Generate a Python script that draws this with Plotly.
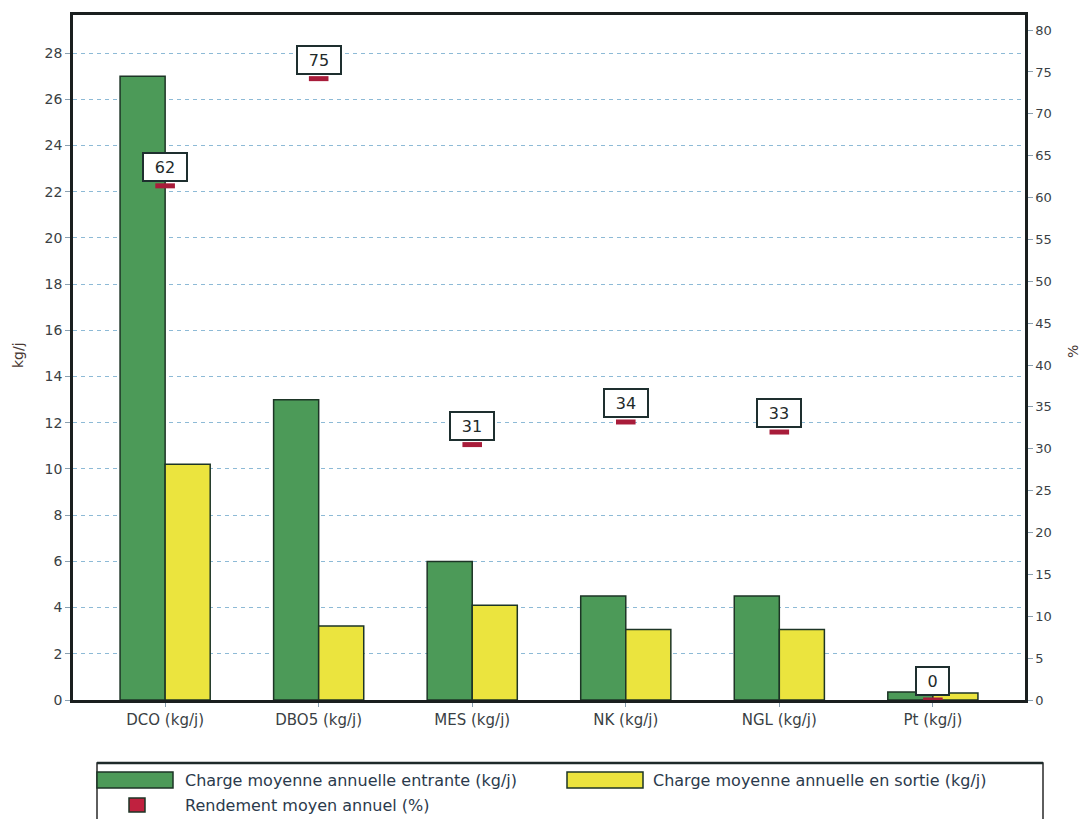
import plotly.graph_objects as go

categories = ["DCO (kg/j)", "DBO5 (kg/j)", "MES (kg/j)", "NK (kg/j)", "NGL (kg/j)", "Pt (kg/j)"]
charge_entrante = [27.0, 13.0, 6.0, 4.5, 4.5, 0.35]
charge_sortie = [10.2, 3.2, 4.1, 3.05, 3.05, 0.3]
rendement = [61.4, 74.2, 30.5, 33.2, 32.0, 0.0]
rendement_labels = ["62", "75", "31", "34", "33", "0"]
left_ticks = list(range(0, 29, 2))
right_ticks = list(range(0, 81, 5))

W, H = 1086, 819
L, R, T, B = 73, 1025, 15, 700

def pxx(px):
    return (px - L) / (R - L)

def pxy(py):
    return (B - py) / (B - T)

GREEN = "#4c9a58"
YELLOW = "#ebe43e"
RED = "#c0213f"
EDGE = "#1d3526"
TXT = "#3a3f44"
FONT = "DejaVu Sans"

fig = go.Figure()
fig.add_trace(go.Bar(x=categories, y=charge_entrante, name="Charge moyenne annuelle entrante (kg/j)",
                     marker=dict(color=GREEN, line=dict(color=EDGE, width=1.5)), yaxis="y"))
fig.add_trace(go.Bar(x=categories, y=charge_sortie, name="Charge moyenne annuelle en sortie (kg/j)",
                     marker=dict(color=YELLOW, line=dict(color=EDGE, width=1.5)), yaxis="y"))
fig.add_trace(go.Scatter(x=categories, y=rendement, name="Rendement moyen annuel (%)", mode="markers",
                         marker=dict(symbol="line-ew", size=14, color=RED, line=dict(color="#a81c3a", width=5)),
                         yaxis="y2"))

annotations = []
for c, v, lab in zip(categories, rendement, rendement_labels):
    annotations.append(dict(x=c, y=v, xref="x", yref="y2", text=lab, showarrow=False,
                            yanchor="bottom", yshift=4,
                            font=dict(family=FONT, size=16, color="#1e2a2a"),
                            bgcolor="white", bordercolor="#1e2f2f", borderwidth=2, borderpad=3,
                            width=11 * len(lab) + 14, height=20))

# axis titles
annotations.append(dict(x=pxx(18), y=pxy(355), xref="paper", yref="paper", text="kg/j", textangle=-90,
                        xanchor="center", yanchor="middle",
                        showarrow=False, font=dict(family=FONT, size=14, color="#4a3a35")))
annotations.append(dict(x=pxx(1073), y=pxy(352), xref="paper", yref="paper", text="%", textangle=-90,
                        xanchor="center", yanchor="middle",
                        showarrow=False, font=dict(family=FONT, size=14, color="#4a3a35")))

shapes = []
# custom legend box
shapes.append(dict(type="rect", xref="paper", yref="paper", x0=pxx(97), x1=pxx(1043), y0=pxy(835), y1=pxy(763),
                   fillcolor="white", line=dict(color="#2a2a2a", width=1.5), layer="above"))
shapes.append(dict(type="line", xref="paper", yref="paper", x0=pxx(97), x1=pxx(1043), y0=pxy(763), y1=pxy(763),
                   line=dict(color="#1e2a2a", width=2.5), layer="above"))
legend_items = [
    (97, 173, 772, 788, GREEN, 183, 780, fig.data[0].name),
    (567, 643, 772, 788, YELLOW, 651, 780, fig.data[1].name),
    (129, 145, 798, 812, RED, 183, 805, fig.data[2].name),
]
for x0, x1, y0, y1, col, tx, ty, name in legend_items:
    shapes.append(dict(type="rect", xref="paper", yref="paper", x0=pxx(x0), x1=pxx(x1), y0=pxy(y1), y1=pxy(y0),
                       fillcolor=col, line=dict(color=EDGE, width=1.5), layer="above"))
    annotations.append(dict(x=pxx(tx), y=pxy(ty), xref="paper", yref="paper", text=name, showarrow=False,
                            xanchor="left", yanchor="middle",
                            font=dict(family=FONT, size=16, color="#2b3a4c")))

fig.update_layout(
    width=W, height=H,
    margin=dict(l=L, r=W - R, t=T, b=H - B),
    paper_bgcolor="white", plot_bgcolor="white",
    barmode="group", bargap=0.413, bargroupgap=0,
    showlegend=False,
    font=dict(family=FONT, size=13, color=TXT),
    xaxis=dict(type="category", range=[-0.6, 5.6], showline=True, linecolor="#1a1f1f", linewidth=2.5,
               mirror=True, ticks="outside", ticklen=4, tickcolor="#8aa0b0", showgrid=False,
               tickfont=dict(family=FONT, size=15, color=TXT), zeroline=False),
    yaxis=dict(range=[0, 29.65], tickvals=left_ticks, showline=True, linecolor="#1a1f1f", linewidth=2.5,
               mirror=True, ticks="outside", ticklen=5, tickcolor="#8aa0b0",
               showgrid=True, gridcolor="#8dbad6", griddash="4px,4px", gridwidth=1.2, zeroline=False,
               tickfont=dict(family=FONT, size=14, color=TXT)),
    yaxis2=dict(range=[0, 81.8], tickvals=right_ticks, overlaying="y", side="right", showline=True,
                linecolor="#1a1f1f", linewidth=2.5, ticks="outside", ticklen=5, tickcolor="#8aa0b0",
                showgrid=False, zeroline=False, tickfont=dict(family=FONT, size=13, color=TXT)),
    annotations=annotations,
    shapes=shapes,
)

fig.write_html("out.html", config={"displayModeBar": False},
               post_script="document.body.style.margin='0';document.body.style.padding='0';")
